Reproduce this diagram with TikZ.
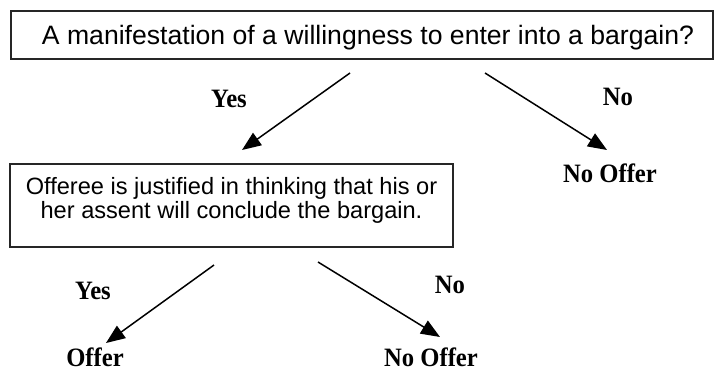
\documentclass[tikz,border=0pt]{standalone}
\usepackage{fontspec}
\setmainfont{Liberation Serif}
\newfontfamily\arialfont{Liberation Sans}
\newfontfamily\labelfont[FakeStretch=0.93]{Liberation Serif}
\usetikzlibrary{arrows.meta}
\tikzset{
  qbox/.style={draw=black!85, line width=1.8pt, inner sep=0pt, align=center, font=\arialfont},
  lbl/.style={anchor=base, inner sep=0pt, font=\labelfont\fontsize{26.5}{26.5}\selectfont\bfseries},
  arr/.style={line width=1.5pt, -{Triangle[length=19pt,width=15pt]}}
}
\begin{document}
\begin{tikzpicture}[x=1pt,y=-1pt]
\useasboundingbox (0,0) rectangle (715,373);
\node[qbox, minimum width=702pt, minimum height=48.5pt, text height=19pt, text depth=0pt,
  font=\arialfont\fontsize{26.6}{27}\selectfont] (q1) at (362,35)
  {\hspace*{12pt}A manifestation of a willingness to enter into a bargain?};
\node[qbox, minimum width=443pt, minimum height=83pt, text height=41pt, text depth=16pt,
  font=\arialfont\fontsize{23.6}{24}\selectfont] (q2) at (231.5,205.5)
  {Offeree is justified in thinking that his or\\her assent will conclude the bargain.};
\node[lbl] (yes1) at (229,107) {Yes};
\node[lbl] (no1) at (618,105) {No};
\node[lbl] (nooffer1) at (610,182) {No Offer};
\node[lbl] (yes2) at (93,299) {Yes};
\node[lbl] (no2) at (450,293) {No};
\node[lbl] (offer) at (95,366) {Offer};
\node[lbl] (nooffer2) at (431,366) {No Offer};
\coordinate (s1) at (350,73);
\coordinate (e1) at (242,150);
\coordinate (s2) at (485,73);
\coordinate (e2) at (607,150);
\coordinate (s3) at (214,265);
\coordinate (e3) at (106,343);
\coordinate (s4) at (318,262);
\coordinate (e4) at (440,337);
\draw[arr] (s1) -- (e1);
\draw[arr] (s2) -- (e2);
\draw[arr] (s3) -- (e3);
\draw[arr] (s4) -- (e4);
\end{tikzpicture}
\end{document}
